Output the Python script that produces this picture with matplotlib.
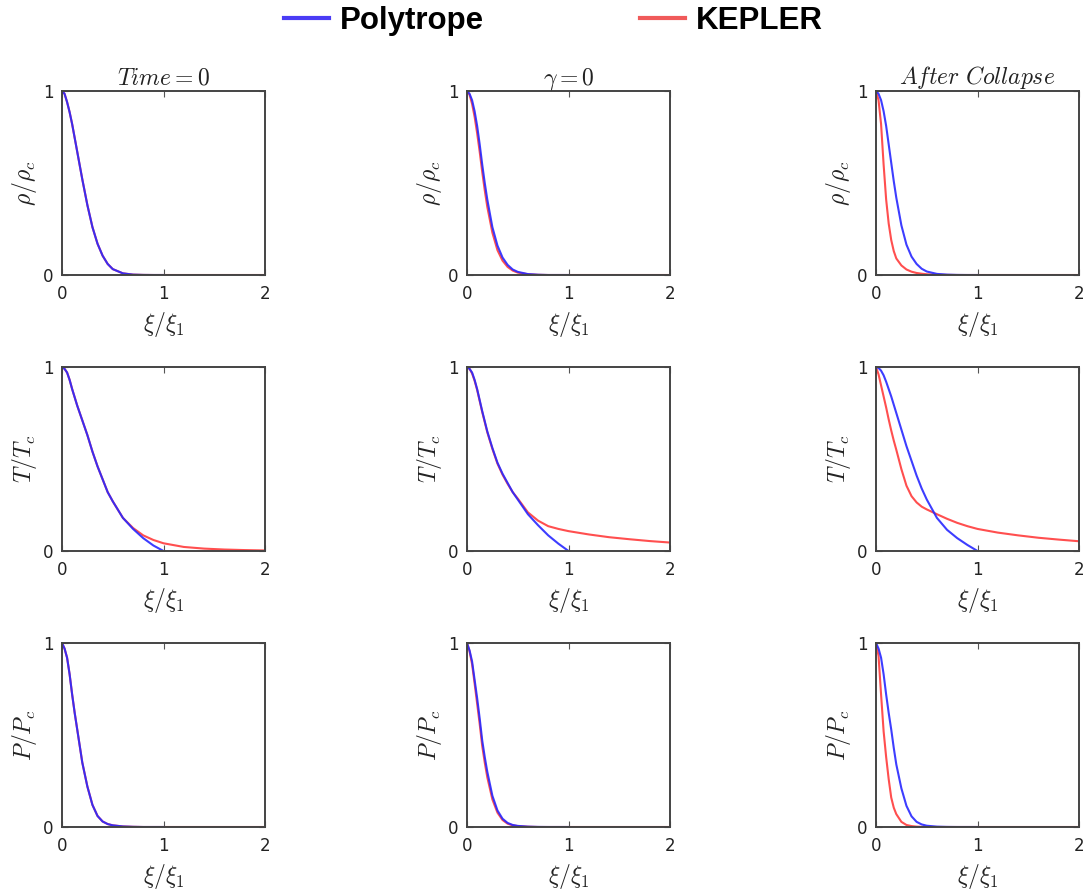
"""Polytrope vs KEPLER profiles: density, temperature and pressure at three epochs."""

import matplotlib

matplotlib.use("Agg")
import matplotlib.pyplot as plt  # noqa: E402
from matplotlib.lines import Line2D  # noqa: E402

# radial grid (xi / xi_1); the polytrope stops at the surface, KEPLER runs on to 2
XI_POLY = [0.0, 0.025, 0.05, 0.075, 0.1, 0.125, 0.15, 0.175, 0.2, 0.25,
           0.3, 0.35, 0.4, 0.45, 0.5, 0.6, 0.7, 0.8, 0.9, 1.0]
XI_KEPLER = XI_POLY + [1.2, 1.4, 1.6, 1.8, 2.0]

# density rho / rho_c
RHO_T0_POLY = [1.0, 0.985, 0.94, 0.885, 0.82, 0.745, 0.67, 0.595, 0.52, 0.38,
               0.26, 0.17, 0.105, 0.06, 0.032, 0.009, 0.002, 0.0005, 0.0, 0.0]
RHO_T0_KEPLER = RHO_T0_POLY + [0.0, 0.0, 0.0, 0.0, 0.0]
RHO_G0_POLY = [1.0, 0.985, 0.95, 0.89, 0.81, 0.71, 0.60, 0.50, 0.41, 0.26,
               0.16, 0.095, 0.055, 0.03, 0.017, 0.005, 0.0015, 0.0, 0.0, 0.0]
RHO_G0_KEPLER = [1.0, 0.98, 0.93, 0.86, 0.77, 0.67, 0.56, 0.46, 0.37, 0.23,
                 0.135, 0.078, 0.044, 0.024, 0.013, 0.004, 0.001, 0.0, 0.0, 0.0,
                 0.0, 0.0, 0.0, 0.0, 0.0]
RHO_AC_POLY = [1.0, 0.985, 0.95, 0.89, 0.81, 0.71, 0.61, 0.51, 0.42, 0.27,
               0.165, 0.10, 0.06, 0.034, 0.019, 0.006, 0.002, 0.0005, 0.0, 0.0]
RHO_AC_KEPLER = [1.0, 0.95, 0.82, 0.60, 0.41, 0.28, 0.19, 0.13, 0.09, 0.052,
                 0.03, 0.018, 0.011, 0.007, 0.004, 0.0015, 0.0005, 0.0, 0.0, 0.0,
                 0.0, 0.0, 0.0, 0.0, 0.0]

# temperature T / T_c
T_T0_POLY = [1.0, 0.99, 0.97, 0.93, 0.88, 0.835, 0.79, 0.75, 0.71, 0.63,
             0.54, 0.46, 0.39, 0.32, 0.27, 0.18, 0.12, 0.07, 0.03, 0.0]
T_T0_KEPLER = [1.0, 0.99, 0.97, 0.93, 0.88, 0.835, 0.79, 0.75, 0.71, 0.63,
               0.54, 0.46, 0.39, 0.32, 0.27, 0.18, 0.125, 0.085, 0.06, 0.042,
               0.022, 0.013, 0.008, 0.005, 0.003]
T_G0_POLY = [1.0, 0.99, 0.97, 0.93, 0.88, 0.82, 0.76, 0.705, 0.65, 0.56,
             0.48, 0.42, 0.37, 0.32, 0.28, 0.20, 0.14, 0.085, 0.04, 0.0]
T_G0_KEPLER = [1.0, 0.99, 0.965, 0.925, 0.875, 0.815, 0.755, 0.70, 0.645, 0.555,
               0.475, 0.415, 0.365, 0.32, 0.285, 0.21, 0.165, 0.135, 0.12, 0.108,
               0.09, 0.075, 0.064, 0.054, 0.046]
T_AC_POLY = [1.0, 0.995, 0.98, 0.955, 0.92, 0.88, 0.84, 0.795, 0.75, 0.66,
             0.57, 0.49, 0.41, 0.34, 0.28, 0.18, 0.115, 0.07, 0.033, 0.0]
T_AC_KEPLER = [1.0, 0.96, 0.90, 0.84, 0.78, 0.715, 0.655, 0.60, 0.55, 0.445,
               0.355, 0.298, 0.264, 0.241, 0.226, 0.20, 0.175, 0.153, 0.135, 0.12,
               0.10, 0.085, 0.072, 0.062, 0.053]

# pressure P / P_c
P_T0_POLY = [1.0, 0.97, 0.92, 0.83, 0.72, 0.62, 0.53, 0.44, 0.35, 0.22,
             0.12, 0.06, 0.03, 0.016, 0.009, 0.003, 0.001, 0.0, 0.0, 0.0]
P_T0_KEPLER = P_T0_POLY + [0.0, 0.0, 0.0, 0.0, 0.0]
P_G0_POLY = [1.0, 0.96, 0.90, 0.80, 0.70, 0.59, 0.47, 0.38, 0.30, 0.17,
             0.09, 0.045, 0.022, 0.011, 0.006, 0.002, 0.0005, 0.0, 0.0, 0.0]
P_G0_KEPLER = [1.0, 0.955, 0.885, 0.78, 0.67, 0.56, 0.44, 0.35, 0.27, 0.15,
               0.078, 0.038, 0.018, 0.009, 0.005, 0.0015, 0.0, 0.0, 0.0, 0.0,
               0.0, 0.0, 0.0, 0.0, 0.0]
P_AC_POLY = [1.0, 0.97, 0.92, 0.83, 0.72, 0.62, 0.53, 0.43, 0.34, 0.21,
             0.115, 0.058, 0.028, 0.014, 0.007, 0.002, 0.0005, 0.0, 0.0, 0.0]
P_AC_KEPLER = [1.0, 0.93, 0.72, 0.52, 0.38, 0.26, 0.16, 0.105, 0.07, 0.028,
               0.011, 0.005, 0.002, 0.001, 0.0005, 0.0, 0.0, 0.0, 0.0, 0.0,
               0.0, 0.0, 0.0, 0.0, 0.0]

COL_TITLES = [r"$Time = 0$", r"$\gamma = 0$", r"$After\ Collapse$"]
ROW_LABELS = [r"$\rho/\rho_c$", r"$T/T_c$", r"$P/P_c$"]
X_LABEL = r"$\xi/\xi_1$"

PANELS = [
    [(RHO_T0_POLY, RHO_T0_KEPLER), (RHO_G0_POLY, RHO_G0_KEPLER), (RHO_AC_POLY, RHO_AC_KEPLER)],
    [(T_T0_POLY, T_T0_KEPLER), (T_G0_POLY, T_G0_KEPLER), (T_AC_POLY, T_AC_KEPLER)],
    [(P_T0_POLY, P_T0_KEPLER), (P_G0_POLY, P_G0_KEPLER), (P_AC_POLY, P_AC_KEPLER)],
]

BLUE = "#2828ff"
RED = "#ff3030"

plt.rcParams["mathtext.fontset"] = "cm"
plt.rcParams["font.family"] = "DejaVu Sans"

W, H = 1089, 890
fig = plt.figure(figsize=(W / 100, H / 100), dpi=100)

lefts = [62, 467, 876]
tops = [91, 367, 643]
aw, ah = 203, 184

for r in range(3):
    for c in range(3):
        ax = fig.add_axes([lefts[c] / W, 1 - (tops[r] + ah) / H, aw / W, ah / H])
        poly, kep = PANELS[r][c]
        ax.plot(XI_KEPLER, kep, color=RED, lw=1.5, alpha=0.85)
        ax.plot(XI_POLY, poly, color=BLUE, lw=1.5, alpha=0.9)
        ax.set_xlim(0, 2)
        ax.set_ylim(0, 1)
        ax.set_xticks([0, 1, 2])
        ax.set_yticks([0, 1])
        ax.tick_params(direction="in", top=True, right=True, length=4.5,
                       width=0.8, color="#555555", labelsize=12,
                       labelcolor="#222222")
        ax.tick_params(axis="x", pad=7)
        ax.tick_params(axis="y", pad=6)
        for sp in ax.spines.values():
            sp.set_linewidth(1.4)
            sp.set_color("#444444")
        ax.set_xlabel(X_LABEL, fontsize=17, labelpad=5, color="#222222")
        ax.set_ylabel(ROW_LABELS[r], fontsize=17, labelpad=3, color="#222222")
        if r == 0:
            ax.set_title(COL_TITLES[c], fontsize=17, pad=5, color="#222222")

handles = [Line2D([], [], color="#4a3cf5", lw=3),
           Line2D([], [], color="#f05a5a", lw=3)]
fig.legend(handles, ["Polytrope", "KEPLER"], loc="center",
           bbox_to_anchor=(0.508, 1 - 21 / H), ncol=2, frameon=False,
           prop={"family": "Liberation Sans", "weight": "bold", "size": 22.5},
           handlelength=1.44, handletextpad=0.35, columnspacing=5.0,
           borderpad=0.2)

fig.savefig("out.png", dpi=100)
